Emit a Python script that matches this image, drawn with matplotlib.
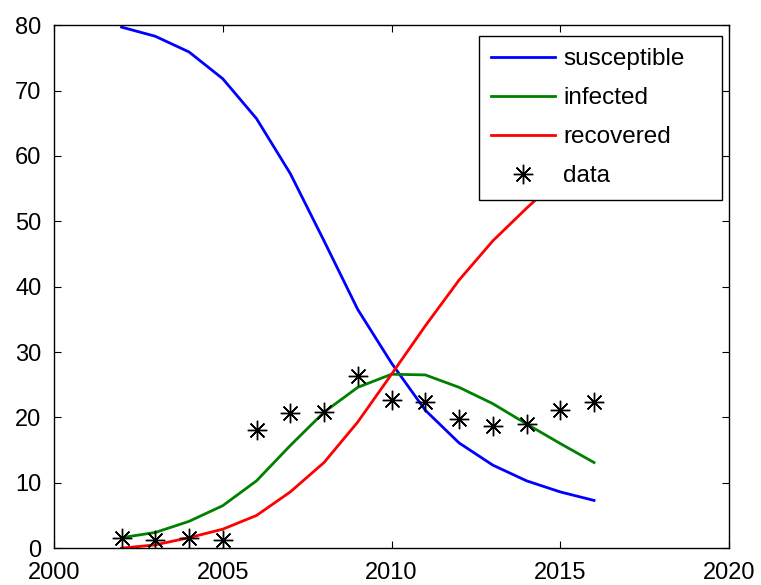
import numpy as np
import matplotlib.pyplot as plt

plt.rcParams['font.family'] = ['Liberation Sans', 'DejaVu Sans']

# Роки та значення
years = np.arange(2002, 2017)
susceptible = [79.7, 78.3, 75.9, 71.8, 65.7, 57.3, 47.0, 36.5, 28.3, 21.1, 16.1, 12.7, 10.3, 8.6, 7.3]
infected = [1.6, 2.4, 4.1, 6.5, 10.3, 15.7, 20.8, 24.6, 26.6, 26.5, 24.6, 22.1, 19.0, 16.0, 13.1]
recovered = [0.0, 0.5, 1.6, 2.9, 5.0, 8.6, 13.1, 19.3, 26.6, 34.0, 41.0, 47.0, 52.0, 56.7, 60.9]
data = [1.5, 1.2, 1.5, 1.3, 18.0, 20.6, 20.8, 26.4, 22.7, 22.3, 19.7, 18.7, 19.0, 21.1, 22.3]

fig = plt.figure(figsize=(7.61, 5.85), dpi=100)
ax = fig.add_axes([0.071, 0.063, 0.887, 0.894])

ax.plot(years, susceptible, color=(0, 0, 1), lw=2.0, label='susceptible')
ax.plot(years, infected, color=(0, 0.5, 0), lw=2.0, label='infected')
ax.plot(years, recovered, color=(1, 0, 0), lw=2.0, label='recovered')
ax.plot(years, data, linestyle='none', marker=(8, 2, 0), markersize=14,
        markeredgewidth=1.0, color='black', label='data')

ax.set_xlim(2000, 2020)
ax.set_ylim(0, 80)
ax.set_xticks(np.arange(2000, 2021, 5))
ax.set_yticks(np.arange(0, 81, 10))
ax.tick_params(direction='in', length=5, width=0.8, top=True, right=True,
               labelsize=17)
ax.tick_params(axis='x', pad=10)
ax.tick_params(axis='y', pad=9)
for s in ax.spines.values():
    s.set_linewidth(1.0)

# легенда як у MATLAB: ширша рамка, записи притиснуті ліворуч
leg = ax.legend(loc='upper right', bbox_to_anchor=(0.630, 0.665, 0.360, 0.314),
                mode='expand', alignment='left', borderaxespad=0,
                fontsize=17.5, fancybox=False, framealpha=1,
                edgecolor='black', handlelength=2.6, handletextpad=0.35,
                labelspacing=0.7, borderpad=0.5)
leg.get_frame().set_linewidth(1.0)

fig.savefig('out.png', dpi=100)
